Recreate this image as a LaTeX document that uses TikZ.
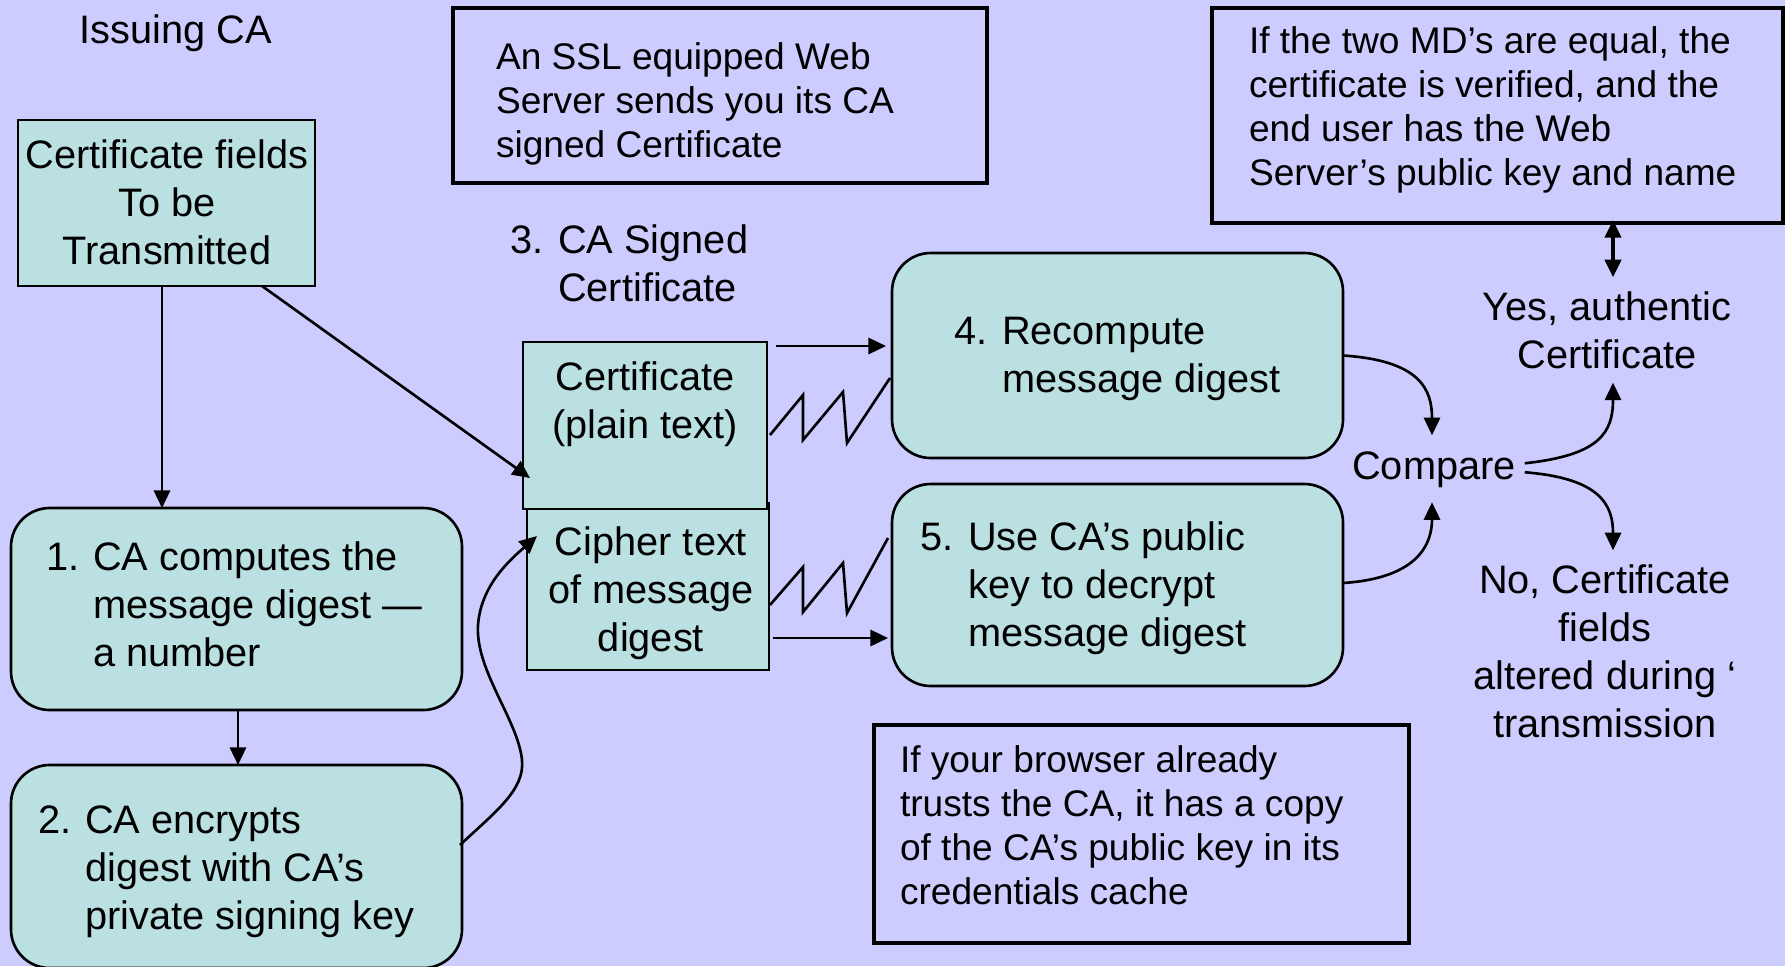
\documentclass[tikz,border=0pt]{standalone}
\usepackage{fontspec}
\setmainfont{Liberation Sans}
\usetikzlibrary{arrows.meta,calc,fit}
\definecolor{bgcol}{RGB}{204,204,255}
\definecolor{tealbox}{RGB}{186,224,226}
\begin{document}
\begin{tikzpicture}[x=0.01cm,y=-0.01cm,
  tbox/.style={draw,line width=0.75pt,fill=tealbox,inner sep=0pt,outer sep=0pt},
  rbox/.style={tbox,rounded corners=11pt},
  nbox/.style={draw,line width=1pt,inner sep=0pt,outer sep=0pt},
  txt/.style={inner sep=0pt,outer sep=0pt,font=\fontsize{11.3}{13.7}\selectfont},
  ntxt/.style={inner sep=0pt,outer sep=0pt,font=\fontsize{10.55}{12.6}\selectfont},
  arr/.style={line width=0.75pt,-{Triangle[length=5pt,width=4.6pt]}},
  zig/.style={line width=0.75pt},
]
\useasboundingbox (0,0) rectangle (1785,966);
\clip (0,0) rectangle (1785,966);
\fill[bgcol] (0,0) rectangle (1785,966);

% boxes
\node[tbox,fit={(18,120) (315,286)}] (fields) {};
\node[nbox,fit={(453,8) (987,183)}] (notetop) {};
\node[nbox,fit={(1212,8) (1783,223)}] (notetr) {};
\node[tbox,fit={(527,503) (769,670)}] (cipher) {};
\node[tbox,fit={(523,342) (767,509)}] (cert) {};
\node[rbox,fit={(892,253) (1343,458)}] (box4) {};
\node[rbox,fit={(892,484) (1343,686)}] (box5) {};
\node[nbox,fit={(874,725) (1409,943)}] (notebot) {};
\node[rbox,fit={(11,508) (462,710)}] (box1) {};
\node[rbox,fit={(11,765) (462,968)}] (box2) {};

% texts
\node[txt,anchor=base] (issuing) at (176,43) {Issuing CA};
\node[txt,anchor=base] (fieldst) at (167,168) {\begin{tabular}[t]{@{}c@{}}Certificate fields\\To be\\Transmitted\end{tabular}};
\node[ntxt,anchor=base west] (notetopt) at (496,69) {\begin{tabular}[t]{@{}l@{}}An SSL equipped Web\\Server sends you its CA\\signed Certificate\end{tabular}};
\node[ntxt,anchor=base west] (notetrt) at (1249,53) {\begin{tabular}[t]{@{}l@{}}If the two MD’s are equal, the\\certificate is verified, and the\\end user has the Web\\Server’s public key and name\end{tabular}};
\node[txt,anchor=base west] (signed) at (510,253) {\begin{tabular}[t]{@{}l@{}l@{}}\makebox[13.7pt][l]{3.}&CA Signed\\&Certificate\end{tabular}};
\node[txt,anchor=base] (certt) at (645,390) {\begin{tabular}[t]{@{}c@{}}Certificate\\(plain text)\end{tabular}};
\node[txt,anchor=base] (ciphert) at (651,555) {\begin{tabular}[t]{@{}c@{}}Cipher text\\of message\\digest\end{tabular}};
\node[txt,anchor=base west] (box4t) at (954,344) {\begin{tabular}[t]{@{}l@{}l@{}}\makebox[13.7pt][l]{4.}&Recompute\\&message digest\end{tabular}};
\node[txt,anchor=base west] (box5t) at (920,550) {\begin{tabular}[t]{@{}l@{}l@{}}\makebox[13.7pt][l]{5.}&Use CA’s public\\&key to decrypt\\&message digest\end{tabular}};
\node[txt,anchor=base west] (box1t) at (46,570) {\begin{tabular}[t]{@{}l@{}l@{}}\makebox[13.4pt][l]{1.}&CA computes the\\&message digest —\\&a number\end{tabular}};
\node[txt,anchor=base west] (box2t) at (38,833) {\begin{tabular}[t]{@{}l@{}l@{}}\makebox[13.4pt][l]{2.}&CA encrypts\\&digest with CA’s\\&private signing key\end{tabular}};
\node[txt,anchor=base] (cmp) at (1434,479) {Compare};
\node[txt,anchor=base] (yes) at (1607,320) {\begin{tabular}[t]{@{}c@{}}Yes, authentic\\Certificate\end{tabular}};
\node[txt,anchor=base] (no) at (1605,593) {\begin{tabular}[t]{@{}c@{}}No, Certificate\\fields\\altered during ‘\\transmission\end{tabular}};
\node[ntxt,anchor=base west] (notebott) at (900,772) {\begin{tabular}[t]{@{}l@{}}If your browser already\\trusts the CA, it has a copy\\of the CA’s public key in its\\credentials cache\end{tabular}};

% connectors
\draw[arr] ($(fields.south west)+(144,0)$) -- ($(box1.north west)+(151,0)$);
\draw[arr] ($(fields.south west)+(244,0)$) -- ($(cert.west)+(7,52.5)$);
\draw[arr] ($(box1.south west)+(227,0)$) -- ($(box2.north west)+(227,0)$);
\draw[arr] ($(box2.north east)+(-2,80)$)
   .. controls ($(box2.north east)+(33,47)$) and ($(box2.north east)+(63,25)$) .. ($(box2.north east)+(60,-5)$)
   .. controls ($(box2.north east)+(56,-45)$) and ($(box2.north east)+(13,-95)$) .. ($(box2.north east)+(16,-140)$)
   .. controls ($(box2.north east)+(19,-180)$) and ($(box2.north east)+(48,-205)$) .. ($(cipher.north west)+(10,33)$);
\draw[arr] ($(cert.north east)+(9,4)$) -- ($(box4.north west)+(-6,93)$);
\draw[arr] ($(cipher.south east)+(4,-32)$) -- ($(box5.south west)+(-4,-48)$);
\draw[zig] ($(cert.east)+(3,9.5)$) -- ++(33,-40) -- ++(0,45) -- ++(40,-48) -- ++(4,51) -- ++(43,-65);
\draw[zig] ($(cipher.east)+(1,18.5)$) -- ++(33,-38) -- ++(0,45) -- ++(40,-49) -- ++(4,50) -- ++(41,-75);
\draw[arr] (box4.east) .. controls ($(box4.east)+(77,5)$) and ($(cmp.center)+(-2,-80)$) .. ($(cmp.center)+(-2,-34)$);
\draw[arr] ($(box5.east)+(0,-2)$) .. controls ($(box5.east)+(77,-7)$) and ($(cmp.center)+(-2,73)$) .. ($(cmp.center)+(-2,33)$);
\draw[arr] ($(cmp.east)+(9,-6)$) .. controls ($(cmp.east)+(84,-14)$) and ($(yes.south)+(6,50)$) .. ($(yes.south)+(6,0)$);
\draw[arr] ($(cmp.east)+(9,3)$) .. controls ($(cmp.east)+(84,9)$) and ($(no.north)+(8,-55)$) .. ($(no.north)+(8,-9)$);
\draw[line width=1pt,{Triangle[length=5pt,width=4.6pt]}-{Triangle[length=5pt,width=4.6pt]}] ($(notetr.south west)+(401,-3)$) -- ($(yes.north)+(6,-9)$);
\end{tikzpicture}
\end{document}
